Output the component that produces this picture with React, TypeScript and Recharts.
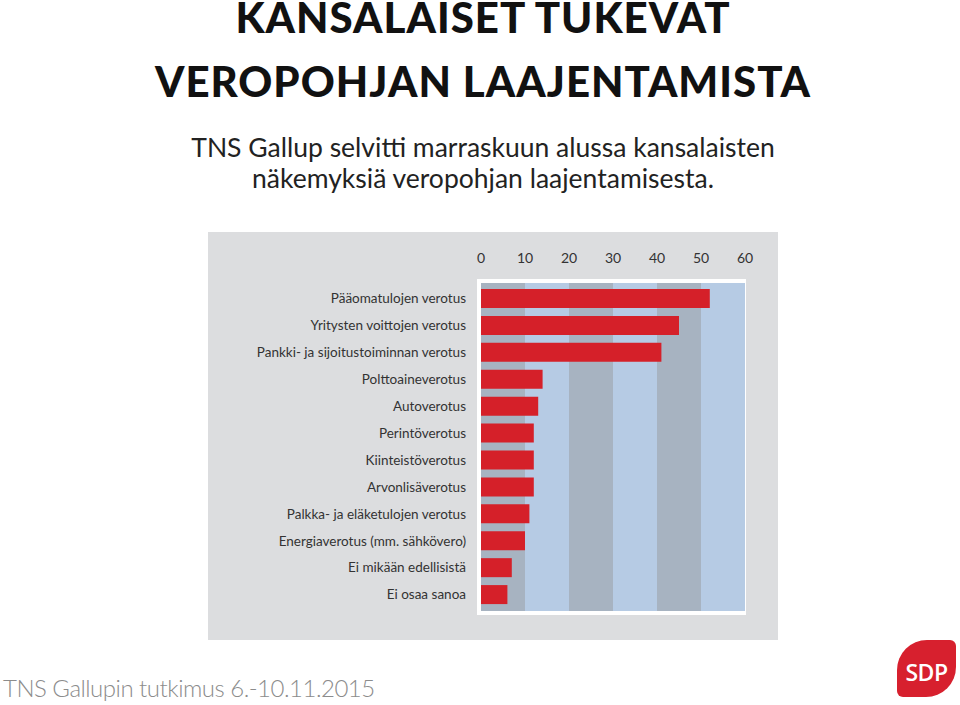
import { Bar, BarChart, CartesianGrid, XAxis, YAxis } from "recharts";

const categories = [
  "Pääomatulojen verotus",
  "Yritysten voittojen verotus",
  "Pankki- ja sijoitustoiminnan verotus",
  "Polttoaineverotus",
  "Autoverotus",
  "Perintöverotus",
  "Kiinteistöverotus",
  "Arvonlisäverotus",
  "Palkka- ja eläketulojen verotus",
  "Energiaverotus (mm. sähkövero)",
  "Ei mikään edellisistä",
  "Ei osaa sanoa",
];

const shares = [52, 45, 41, 14, 13, 12, 12, 12, 11, 10, 7, 6];

const xTicks = [0, 10, 20, 30, 40, 50, 60];

const data = categories.map((name, i) => ({ name, value: shares[i] }));

const abs = (left: number, top: number): React.CSSProperties => ({
  position: "absolute",
  left,
  top,
});

const titleStyle: React.CSSProperties = {
  width: 966,
  textAlign: "center",
  fontSize: 42,
  lineHeight: "30px",
  letterSpacing: 1,
  fontWeight: 900,
  color: "#111",
};

export default function App() {
  return (
    <div
      style={{
        position: "absolute",
        left: 0,
        top: 0,
        width: 960,
        height: 705,
        background: "#ffffff",
        overflow: "hidden",
        fontFamily: "Lato, sans-serif",
      }}
    >
      {/* title */}
      <div style={{ ...abs(0, 2), ...titleStyle }}>KANSALAISET TUKEVAT</div>
      <div style={{ ...abs(0, 66), ...titleStyle }}>VEROPOHJAN LAAJENTAMISTA</div>

      {/* subtitle */}
      <div
        style={{
          ...abs(0, 132),
          width: 966,
          textAlign: "center",
          fontSize: 26.5,
          lineHeight: "31px",
          color: "#222",
        }}
      >
        TNS Gallup selvitti marraskuun alussa kansalaisten
        <br />
        näkemyksiä veropohjan laajentamisesta.
      </div>

      {/* panel */}
      <div
        style={{ ...abs(208, 232), width: 570, height: 408, background: "#dcdddf" }}
      />
      <div
        style={{ ...abs(477, 279), width: 269, height: 336, background: "#ffffff" }}
      />

      <div style={abs(208, 232)}>
        <BarChart
          width={570}
          height={408}
          data={data}
          layout="vertical"
          margin={{ top: 21, right: 33, bottom: 29, left: 0 }}
        >
          <CartesianGrid
            horizontal={false}
            vertical={true}
            stroke="none"
            verticalFill={["#a7b3c1", "#b6cbe4"]}
            fillOpacity={1}
          />
          <XAxis
            type="number"
            orientation="top"
            domain={[0, 60]}
            ticks={xTicks}
            axisLine={false}
            tickLine={false}
            tickSize={0}
            tickMargin={20}
            height={30}
            tick={{ fill: "#333", fontSize: 14, fontFamily: "Lato, sans-serif" }}
          />
          <YAxis
            type="category"
            dataKey="name"
            width={273}
            axisLine={false}
            tickLine={false}
            tickSize={0}
            tickMargin={15}
            padding={{ top: 2, bottom: 3 }}
            interval={0}
            tick={{ fill: "#333", fontSize: 13.5, fontFamily: "Lato, sans-serif" }}
          />
          <Bar
            dataKey="value"
            fill="#d52029"
            barSize={19}
            isAnimationActive={false}
          />
        </BarChart>
      </div>

      {/* footer */}
      <div
        style={{
          ...abs(3, 673),
          fontSize: 24,
          lineHeight: "30px",
          fontWeight: 300,
          letterSpacing: -0.5,
          color: "#8c8c8c",
          whiteSpace: "nowrap",
        }}
      >
        TNS Gallupin tutkimus 6.-10.11.2015
      </div>

      {/* logo */}
      <div
        style={{
          ...abs(897, 640),
          width: 59,
          height: 57,
          background: "#d7202e",
          borderRadius: "30px 6px 30px 6px",
          color: "#fff",
          fontFamily: "'Open Sans', sans-serif",
          fontWeight: 600,
          fontSize: 23,
          lineHeight: "57px",
          textAlign: "center",
          paddingTop: 4,
          boxSizing: "border-box",
          letterSpacing: -0.5,
        }}
      >
        SDP
      </div>
    </div>
  );
}
